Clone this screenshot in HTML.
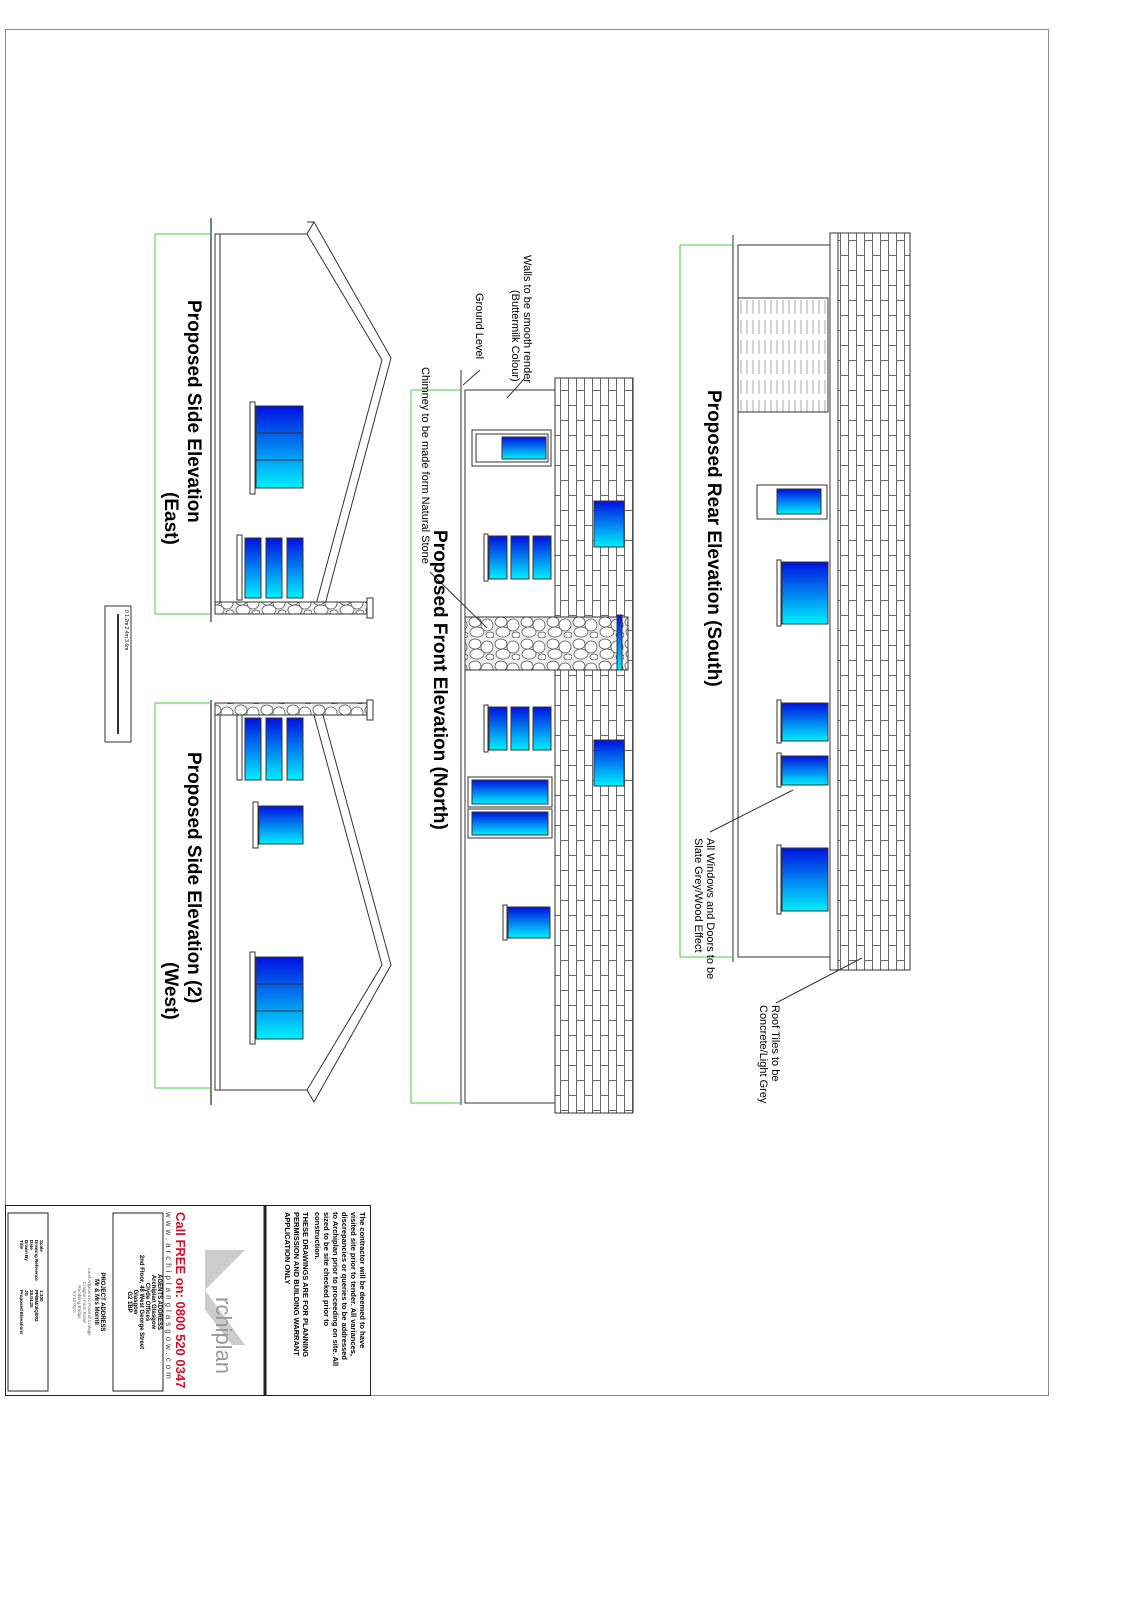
<!DOCTYPE html>
<html><head><meta charset="utf-8"><style>
html,body{margin:0;padding:0;background:#fff;}
svg{display:block;font-family:"Liberation Sans",sans-serif;}
</style></head><body>
<svg width="1131" height="1600" viewBox="0 0 1131 1600" xmlns="http://www.w3.org/2000/svg">
<defs>
<linearGradient id="g" x1="0" y1="0" x2="0" y2="1"><stop offset="0" stop-color="#0010e0"/><stop offset="1" stop-color="#00f0ff"/></linearGradient>
<pattern id="brick" width="16" height="30" patternUnits="userSpaceOnUse">
<rect width="16" height="30" fill="#fff"/>
<path d="M0.5 0V30M8.5 0V30M0 0.5H8.5M8.5 15.5H16" stroke="#666" stroke-width="1" fill="none"/>
</pattern>
<pattern id="stone" width="26" height="22" patternUnits="userSpaceOnUse">
<rect width="26" height="22" fill="#eee"/>
<ellipse cx="7" cy="6" rx="6" ry="5" fill="#fff" stroke="#555" stroke-width="0.8"/>
<ellipse cx="19" cy="9" rx="6" ry="6" fill="#fff" stroke="#555" stroke-width="0.8"/>
<ellipse cx="9" cy="16" rx="7" ry="5" fill="#fff" stroke="#555" stroke-width="0.8"/>
<ellipse cx="22" cy="19" rx="4" ry="3" fill="#fff" stroke="#555" stroke-width="0.8"/>
</pattern>
<pattern id="hatch" width="6" height="20" patternUnits="userSpaceOnUse">
<rect width="6" height="20" fill="#fff"/><path d="M3 0V14" stroke="#aaa" stroke-width="1"/>
</pattern>
</defs>
<rect x="5.5" y="29.5" width="1043" height="1366" fill="none" stroke="#888" stroke-width="1"/>

<!-- REAR ELEVATION -->
<g stroke="#333" fill="none">
<line x1="733" y1="235" x2="733" y2="962" stroke="#777" stroke-width="1.5"/>
<path d="M680 245H733M680 245V957M680 957H733" stroke="#4c4"/>
<rect x="738" y="245" width="92" height="712" fill="#fff"/>
<rect x="830" y="233" width="8" height="737" fill="#fff"/>
<rect x="838" y="233" width="72" height="737" fill="url(#brick)"/>
<rect x="738" y="298" width="90" height="114" fill="url(#hatch)"/>
<rect x="757" y="485" width="70" height="34" fill="#fff"/><rect x="777" y="489" width="44" height="25" fill="url(#g)"/>
<rect x="777" y="560" width="4" height="66" fill="#fff"/><rect x="782" y="562" width="46" height="62" fill="url(#g)"/>
<rect x="777" y="700" width="4" height="43" fill="#fff"/><rect x="782" y="703" width="46" height="38" fill="url(#g)"/>
<rect x="777" y="753" width="4" height="34" fill="#fff"/><rect x="782" y="756" width="46" height="29" fill="url(#g)"/>
<rect x="777" y="845" width="4" height="69" fill="#fff"/><rect x="782" y="848" width="46" height="63" fill="url(#g)"/>
<line x1="710" y1="832" x2="793" y2="790"/>
<line x1="776" y1="1003" x2="862" y2="958"/>
</g>
<text transform="translate(708,390) rotate(90)" font-size="19" font-weight="bold">Proposed Rear Elevation (South)</text>
<text transform="translate(707,838) rotate(90)" font-size="11">All Windows and Doors to be</text>
<text transform="translate(695,838) rotate(90)" font-size="11">Slate Grey/Wood Effect</text>
<text transform="translate(772,1005) rotate(90)" font-size="11">Roof Tiles to be</text>
<text transform="translate(760,1005) rotate(90)" font-size="11">Concrete/Light Grey</text>

<!-- FRONT ELEVATION -->
<g stroke="#333" fill="none">
<line x1="461" y1="370" x2="461" y2="1105" stroke="#777" stroke-width="1.5"/>
<path d="M411 390H461M411 390V1103M411 1103H461" stroke="#4c4"/>
<rect x="465" y="390" width="90" height="713" fill="#fff"/>
<rect x="555" y="378" width="78" height="735" fill="url(#brick)"/>
<rect x="465" y="617" width="163" height="53" fill="url(#stone)"/>
<rect x="617" y="615" width="5" height="55" fill="url(#g)"/>
<rect x="472" y="430" width="79" height="36" fill="#fff"/><rect x="476" y="434" width="72" height="28" fill="#fff"/><rect x="502" y="437" width="44" height="22" fill="url(#g)"/>
<rect x="484" y="534" width="4" height="47" fill="#fff"/>
<rect x="489" y="536" width="18" height="43" fill="url(#g)"/><rect x="511" y="536" width="18" height="43" fill="url(#g)"/><rect x="533" y="536" width="18" height="43" fill="url(#g)"/>
<rect x="594" y="501" width="30" height="46" fill="url(#g)"/>
<rect x="484" y="705" width="4" height="47" fill="#fff"/>
<rect x="489" y="707" width="18" height="43" fill="url(#g)"/><rect x="511" y="707" width="18" height="43" fill="url(#g)"/><rect x="533" y="707" width="18" height="43" fill="url(#g)"/>
<rect x="594" y="740" width="30" height="46" fill="url(#g)"/>
<rect x="468" y="777" width="84" height="30" fill="#fff"/><rect x="472" y="780" width="76" height="24" fill="url(#g)"/>
<rect x="468" y="809" width="84" height="29" fill="#fff"/><rect x="472" y="812" width="76" height="23" fill="url(#g)"/>
<rect x="503" y="905" width="4" height="35" fill="#fff"/><rect x="508" y="907" width="42" height="31" fill="url(#g)"/>
<line x1="430" y1="572" x2="487" y2="628"/>
<line x1="480" y1="370" x2="463" y2="385"/>
<line x1="525" y1="378" x2="507" y2="398"/>
</g>
<text transform="translate(434,530) rotate(90)" font-size="19" font-weight="bold">Proposed Front Elevation (North)</text>
<text transform="translate(524,255) rotate(90)" font-size="11">Walls to be smooth render</text>
<text transform="translate(512,290) rotate(90)" font-size="11">(Buttermilk Colour)</text>
<text transform="translate(476,293) rotate(90)" font-size="11">Ground Level</text>
<text transform="translate(422,367) rotate(90)" font-size="11">Chimney to be made form Natural Stone</text>

<!-- SIDE EAST -->
<g stroke="#333" fill="none">
<line x1="211" y1="218" x2="211" y2="622" stroke="#555" stroke-width="1.5"/>
<path d="M155 234H212M155 234V614M155 614H212" stroke="#4c4"/>
<rect x="215" y="234" width="5" height="378" fill="#fff"/>
<line x1="217" y1="234" x2="314" y2="234"/>
<polygon points="314,222 391,358 323,612 314,612 382,360 307,234" fill="#fff"/>
<line x1="307" y1="222" x2="314" y2="222"/>
<rect x="215" y="602" width="157" height="12" fill="url(#stone)"/>
<rect x="367" y="598" width="6" height="20" fill="#fff"/>
<rect x="250" y="402" width="5" height="92" fill="#fff"/>
<rect x="256" y="406" width="47" height="82" fill="url(#g)"/><path d="M256 433H303M256 460H303"/>
<rect x="237" y="535" width="5" height="65" fill="#fff"/>
<rect x="245" y="538" width="16" height="60" fill="url(#g)"/><rect x="266" y="538" width="16" height="60" fill="url(#g)"/><rect x="287" y="538" width="16" height="60" fill="url(#g)"/>
</g>
<text transform="translate(188,300) rotate(90)" font-size="19" font-weight="bold">Proposed Side Elevation</text>
<text transform="translate(165,492) rotate(90)" font-size="19" font-weight="bold">(East)</text>

<!-- SIDE WEST -->
<g stroke="#333" fill="none">
<line x1="211" y1="700" x2="211" y2="1105" stroke="#555" stroke-width="1.5"/>
<path d="M155 703H212M155 703V1088M155 1088H212" stroke="#4c4"/>
<rect x="215" y="715" width="5" height="375" fill="#fff"/>
<line x1="217" y1="1090" x2="314" y2="1090"/>
<polygon points="323,715 391,965 314,1102 307,1090 382,965 314,715" fill="#fff"/>
<rect x="215" y="703" width="157" height="12" fill="url(#stone)"/>
<rect x="367" y="700" width="6" height="20" fill="#fff"/>
<rect x="237" y="715" width="5" height="65" fill="#fff"/>
<rect x="245" y="718" width="16" height="62" fill="url(#g)"/><rect x="266" y="718" width="16" height="62" fill="url(#g)"/><rect x="287" y="718" width="16" height="62" fill="url(#g)"/>
<rect x="253" y="802" width="5" height="46" fill="#fff"/><rect x="259" y="806" width="44" height="38" fill="url(#g)"/>
<rect x="250" y="952" width="5" height="92" fill="#fff"/>
<rect x="256" y="957" width="47" height="82" fill="url(#g)"/><path d="M256 984H303M256 1011H303"/>
<rect x="105" y="606" width="26" height="136" fill="#fff"/>
<line x1="118" y1="614" x2="118" y2="734" stroke-width="2"/>
</g>
<text transform="translate(188,752) rotate(90)" font-size="19" font-weight="bold">Proposed Side Elevation (2)</text>
<text transform="translate(165,962) rotate(90)" font-size="19" font-weight="bold">(West)</text>
<text transform="translate(125,610) rotate(90)" font-size="5">0      1.2m      2.4m      3.6m</text>

<!-- TITLE BLOCK -->
<g stroke="#222" fill="none">
<rect x="5.5" y="1205.5" width="365" height="190"/>
<line x1="265" y1="1205" x2="265" y2="1395" stroke-width="3"/>
<rect x="113" y="1213" width="50" height="178"/>
<rect x="8" y="1213" width="40" height="178"/>
</g>
<polygon points="245,1250 205,1290 245,1345 232,1345 205,1310 205,1250" fill="#ccc"/>
<text transform="translate(216,1297) rotate(90)" font-size="22" fill="#999">rchiplan</text>
<g font-weight="bold" font-size="7.5">
<text transform="translate(360,1212) rotate(90)">The contractor will be deemed to have</text>
<text transform="translate(351,1212) rotate(90)">visited site prior to tender.  All variances,</text>
<text transform="translate(342,1212) rotate(90)">discrepancies or queries to be addressed</text>
<text transform="translate(333,1212) rotate(90)">to Archiplan prior to proceeding on site. All</text>
<text transform="translate(324,1212) rotate(90)">sized to be site checked prior to</text>
<text transform="translate(315,1212) rotate(90)">construction.</text>
<text transform="translate(303,1212) rotate(90)">THESE DRAWINGS ARE FOR PLANNING</text>
<text transform="translate(294,1212) rotate(90)">PERMISSION AND BUILDING WARRANT</text>
<text transform="translate(285,1212) rotate(90)">APPLICATION ONLY</text>
</g>
<text transform="translate(176,1212) rotate(90)" font-size="13" font-weight="bold" fill="#d0102a">Call FREE on: 0800 520 0347</text>
<text transform="translate(166,1212) rotate(90)" font-size="8" fill="#444" letter-spacing="3">www.archiplanglasgow.com</text>
<g font-size="6" font-weight="bold" text-anchor="middle">
<text transform="translate(158,1302) rotate(90)">AGENTS ADDRESS</text>
<text transform="translate(152,1302) rotate(90)">Archiplan Glasgow</text>
<text transform="translate(146,1302) rotate(90)">Clyde Offices</text>
<text transform="translate(140,1302) rotate(90)">2nd Floor, 48 West George Street</text>
<text transform="translate(134,1302) rotate(90)">Glasgow</text>
<text transform="translate(128,1302) rotate(90)">G2 1BP</text>
<text transform="translate(101,1302) rotate(90)">PROJECT ADDRESS</text>
<text transform="translate(95,1302) rotate(90)">Mr &amp; Mrs Morrill</text>
</g>
<g font-size="4.5" fill="#666" text-anchor="middle">
<text transform="translate(88,1302) rotate(90)">Land Adjacent to Powmill Cottage</text>
<text transform="translate(83,1302) rotate(90)">Craigton Farm Road</text>
<text transform="translate(78,1302) rotate(90)">Rumbling Bridge</text>
<text transform="translate(73,1302) rotate(90)">KY13 0QG</text>
</g>
<g font-size="4.5" font-weight="bold">
<text transform="translate(40,1240) rotate(90)">Scale</text>
<text transform="translate(35,1240) rotate(90)">Drawing Reference</text>
<text transform="translate(30,1240) rotate(90)">Date</text>
<text transform="translate(25,1240) rotate(90)">Drawn By</text>
<text transform="translate(20,1240) rotate(90)">Title</text>
<text transform="translate(40,1290) rotate(90)">1:100</text>
<text transform="translate(35,1290) rotate(90)">PP/BM/J/Q/002</text>
<text transform="translate(30,1290) rotate(90)">28.04.25</text>
<text transform="translate(25,1290) rotate(90)">JG</text>
<text transform="translate(20,1290) rotate(90)">Proposed Elevations</text>
</g>
</svg>
</body></html>
